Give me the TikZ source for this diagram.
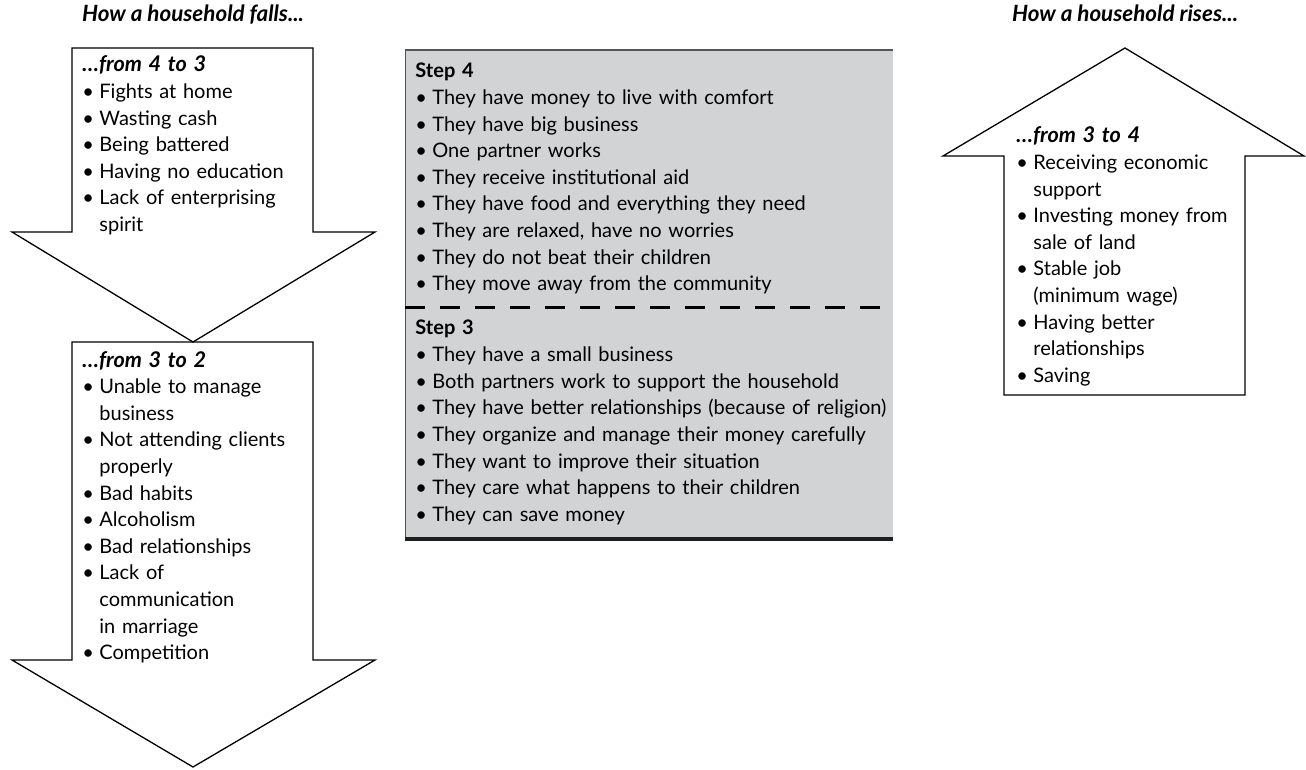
\documentclass[tikz,border=0pt]{standalone}
\usepackage{fontspec}
\setmainfont{Lato}
\definecolor{stepgray}{RGB}{210,211,213}
\definecolor{edgegray}{RGB}{85,85,85}
\newcommand\bitem[1]{\par\hangindent=8.5pt\hangafter=1\noindent\makebox[8.5pt][l]{\textbullet}#1}
\newcommand\boxhead[1]{\noindent{\fontsize{10.8}{13.3}\selectfont\bfseries\itshape #1}}
\newcommand\stephead[1]{\noindent\textbf{#1}}
\tikzset{
  bigarrow/.style={draw=black, fill=white, line width=0.65pt, line join=miter},
  listtext/.style={anchor=base west, inner sep=0pt, text width=#1, align=left,
    font=\fontsize{10}{13.3}\selectfont},
  headtitle/.style={anchor=base, inner sep=0pt, font=\fontsize{11.2}{13}\selectfont\bfseries\itshape}
}
\begin{document}
\begin{tikzpicture}[x=0.5pt, y=-0.5pt]
\useasboundingbox (0,0) rectangle (1306,770);
\node[headtitle](falls) at (193,22){How a household falls...};
\node[headtitle](rises) at (1125,22){How a household rises...};
% arrows
\draw[bigarrow] (72,342) -- (313,342) -- (313,660) -- (375,660) -- (193,767) -- (12,660) -- (72,660) -- cycle;
\draw[bigarrow] (72,48) -- (313,48) -- (313,232) -- (375,232) -- (193,342) -- (12,232) -- (72,232) -- cycle;
\draw[bigarrow] (1125,48) -- (1304,156) -- (1245,156) -- (1245,395) -- (1004,395) -- (1004,156) -- (943,156) -- cycle;
% steps box
\coordinate (stepNW) at (405,50);
\coordinate (stepSE) at (893,539);
\fill[stepgray] (stepNW) rectangle (stepSE);
\draw[edgegray, line width=0.5pt] (stepNW |- stepSE) -- (stepNW);
\draw[edgegray, line width=1pt] (stepNW) -- (stepNW -| stepSE);
\draw[black!88, line width=2pt] (stepNW |- stepSE) -- (stepSE);
\coordinate (dashL) at (405,307);
\draw[line width=1.5pt, dash pattern=on 10pt off 7.5pt] (dashL) -- (dashL -| stepSE);
% texts
\node[listtext=160pt](fall43) at (82,72){\boxhead{…from 4 to 3}
\bitem{Fights at home}
\bitem{Wasting cash}
\bitem{Being battered}
\bitem{Having no education}
\bitem{Lack of enterprising\newline spirit}\par};
\node[listtext=160pt](fall32) at (82,367){\boxhead{…from 3 to 2}
\bitem{Unable to manage\newline business}
\bitem{Not attending clients\newline properly}
\bitem{Bad habits}
\bitem{Alcoholism}
\bitem{Bad relationships}
\bitem{Lack of\newline communication\newline in marriage}
\bitem{Competition}\par};
\node[listtext=300pt](step4) at (415,78){\stephead{Step 4}
\bitem{They have money to live with comfort}
\bitem{They have big business}
\bitem{One partner works}
\bitem{They receive institutional aid}
\bitem{They have food and everything they need}
\bitem{They are relaxed, have no worries}
\bitem{They do not beat their children}
\bitem{They move away from the community}\par};
\node[listtext=300pt](step3) at (415,335){\stephead{Step 3}
\bitem{They have a small business}
\bitem{Both partners work to support the household}
\bitem{They have better relationships (because of religion)}
\bitem{They organize and manage their money carefully}
\bitem{They want to improve their situation}
\bitem{They care what happens to their children}
\bitem{They can save money}\par};
\node[listtext=160pt](rise34) at (1016,143){\boxhead{…from 3 to 4}
\bitem{Receiving economic\newline support}
\bitem{Investing money from\newline sale of land}
\bitem{Stable job\newline (minimum wage)}
\bitem{Having better\newline relationships}
\bitem{Saving}\par};
\end{tikzpicture}
\end{document}
